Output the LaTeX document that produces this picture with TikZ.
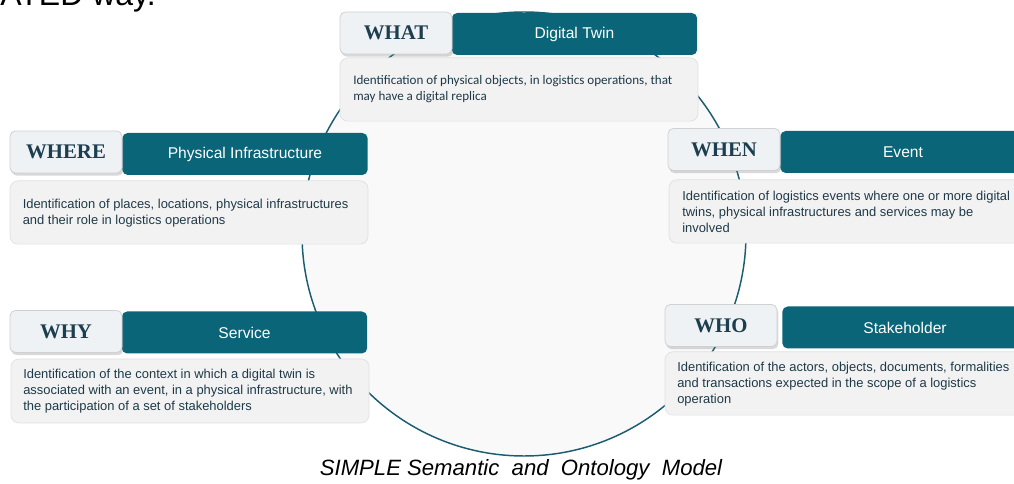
\documentclass[tikz,border=0pt]{standalone}
\usepackage{fontspec}
\setmainfont{Liberation Sans}
\newfontfamily\tabfont{Liberation Serif}
\newfontfamily\calfont{Carlito}
\usetikzlibrary{shadows}
\definecolor{teal1}{HTML}{0A6579}
\definecolor{ring}{HTML}{1B5C70}
\definecolor{tabfill}{HTML}{EEF2F5}
\definecolor{tabtext}{HTML}{1D3E4F}
\definecolor{descfill}{HTML}{F2F2F2}
\definecolor{desctext}{HTML}{1E3A48}
\tikzset{
  tabbox/.style={draw=black!18, line width=0.6pt, fill=tabfill, rounded corners=4pt,
    minimum width=84pt, minimum height=31.5pt, inner sep=0pt,
    drop shadow={opacity=0.3, shadow xshift=1pt, shadow yshift=-2pt},
    font=\tabfont\bfseries\fontsize{15.6}{17}\selectfont, text=tabtext},
  barbox/.style={fill=teal1, rounded corners=4pt, minimum height=31.5pt,
    minimum width=184pt, inner sep=0pt, text=white,
    font=\fontsize{11.7}{13}\selectfont},
  descbox/.style={draw=black!12, line width=0.5pt, fill=descfill, rounded corners=6pt,
    minimum width=268.5pt, minimum height=47.5pt, inner sep=0pt},
  desctxt/.style={anchor=west, align=left, inner sep=0pt, text=desctext,
    font=\fontsize{9.7}{12}\selectfont},
}
\begin{document}
\begin{tikzpicture}[x=0.75pt, y=-0.75pt]
\useasboundingbox (0,0) rectangle (1014,484);
\clip (0,0) rectangle (1014,484);

% heading line running off the top edge
\node[anchor=base east, inner sep=0pt, font=\fontsize{24}{28}\selectfont] (head) at (156,6) {ATED way.};

% central ring
\node[circle, draw=ring, line width=1.1pt, fill=black!2.5, minimum size=333pt, inner sep=0pt] (ring) at (524,234) {};

% WHAT
\node[barbox] (whatbar) at (574.5,34) {Digital Twin};
\node[tabbox] (what) at (396,33) {WHAT};
\node[descbox] (whatdesc) at (519,89.5) {};
\node[desctxt, font=\calfont\fontsize{9.8}{12}\selectfont] (whattxt) at (353,89.5)
  {Identification of physical objects, in logistics operations, that\\may have a digital replica};

% WHERE
\node[barbox] (wherebar) at (245,154) {Physical Infrastructure};
\node[tabbox] (where) at (66,152) {WHERE};
\node[descbox] (wheredesc) at (189,212.5) {};
\node[desctxt] (wheretxt) at (22.5,213)
  {Identification of places, locations, physical infrastructures\\and their role in logistics operations};

% WHEN
\node[barbox] (whenbar) at (903,152) {Event};
\node[tabbox] (when) at (724,149.5) {WHEN};
\node[descbox] (whendesc) at (848,211.5) {};
\node[desctxt] (whentxt) at (682,212)
  {Identification of logistics events where one or more digital\\twins, physical infrastructures and services may be\\involved};

% WHY
\node[barbox] (whybar) at (244.5,332.5) {Service};
\node[tabbox] (why) at (66,331.5) {WHY};
\node[descbox, minimum height=48pt] (whydesc) at (190,391) {};
\node[desctxt] (whytxt) at (23,391.5)
  {Identification of the context in which a digital twin is\\associated with an event, in a physical infrastructure, with\\the participation of a set of stakeholders};

% WHO
\node[barbox] (whobar) at (905,327.5) {Stakeholder};
\node[tabbox] (who) at (721,325.5) {WHO};
\node[descbox] (whodesc) at (844,383.5) {};
\node[desctxt] (whotxt) at (677,384)
  {Identification of the actors, objects, documents, formalities\\and transactions expected in the scope of a logistics\\operation};

% caption
\node[font=\itshape\fontsize{16.6}{19}\selectfont, inner sep=0pt] (caption) at (521,470)
  {SIMPLE\ Semantic\ \ and\ \ Ontology\ \ Model};
\end{tikzpicture}
\end{document}
